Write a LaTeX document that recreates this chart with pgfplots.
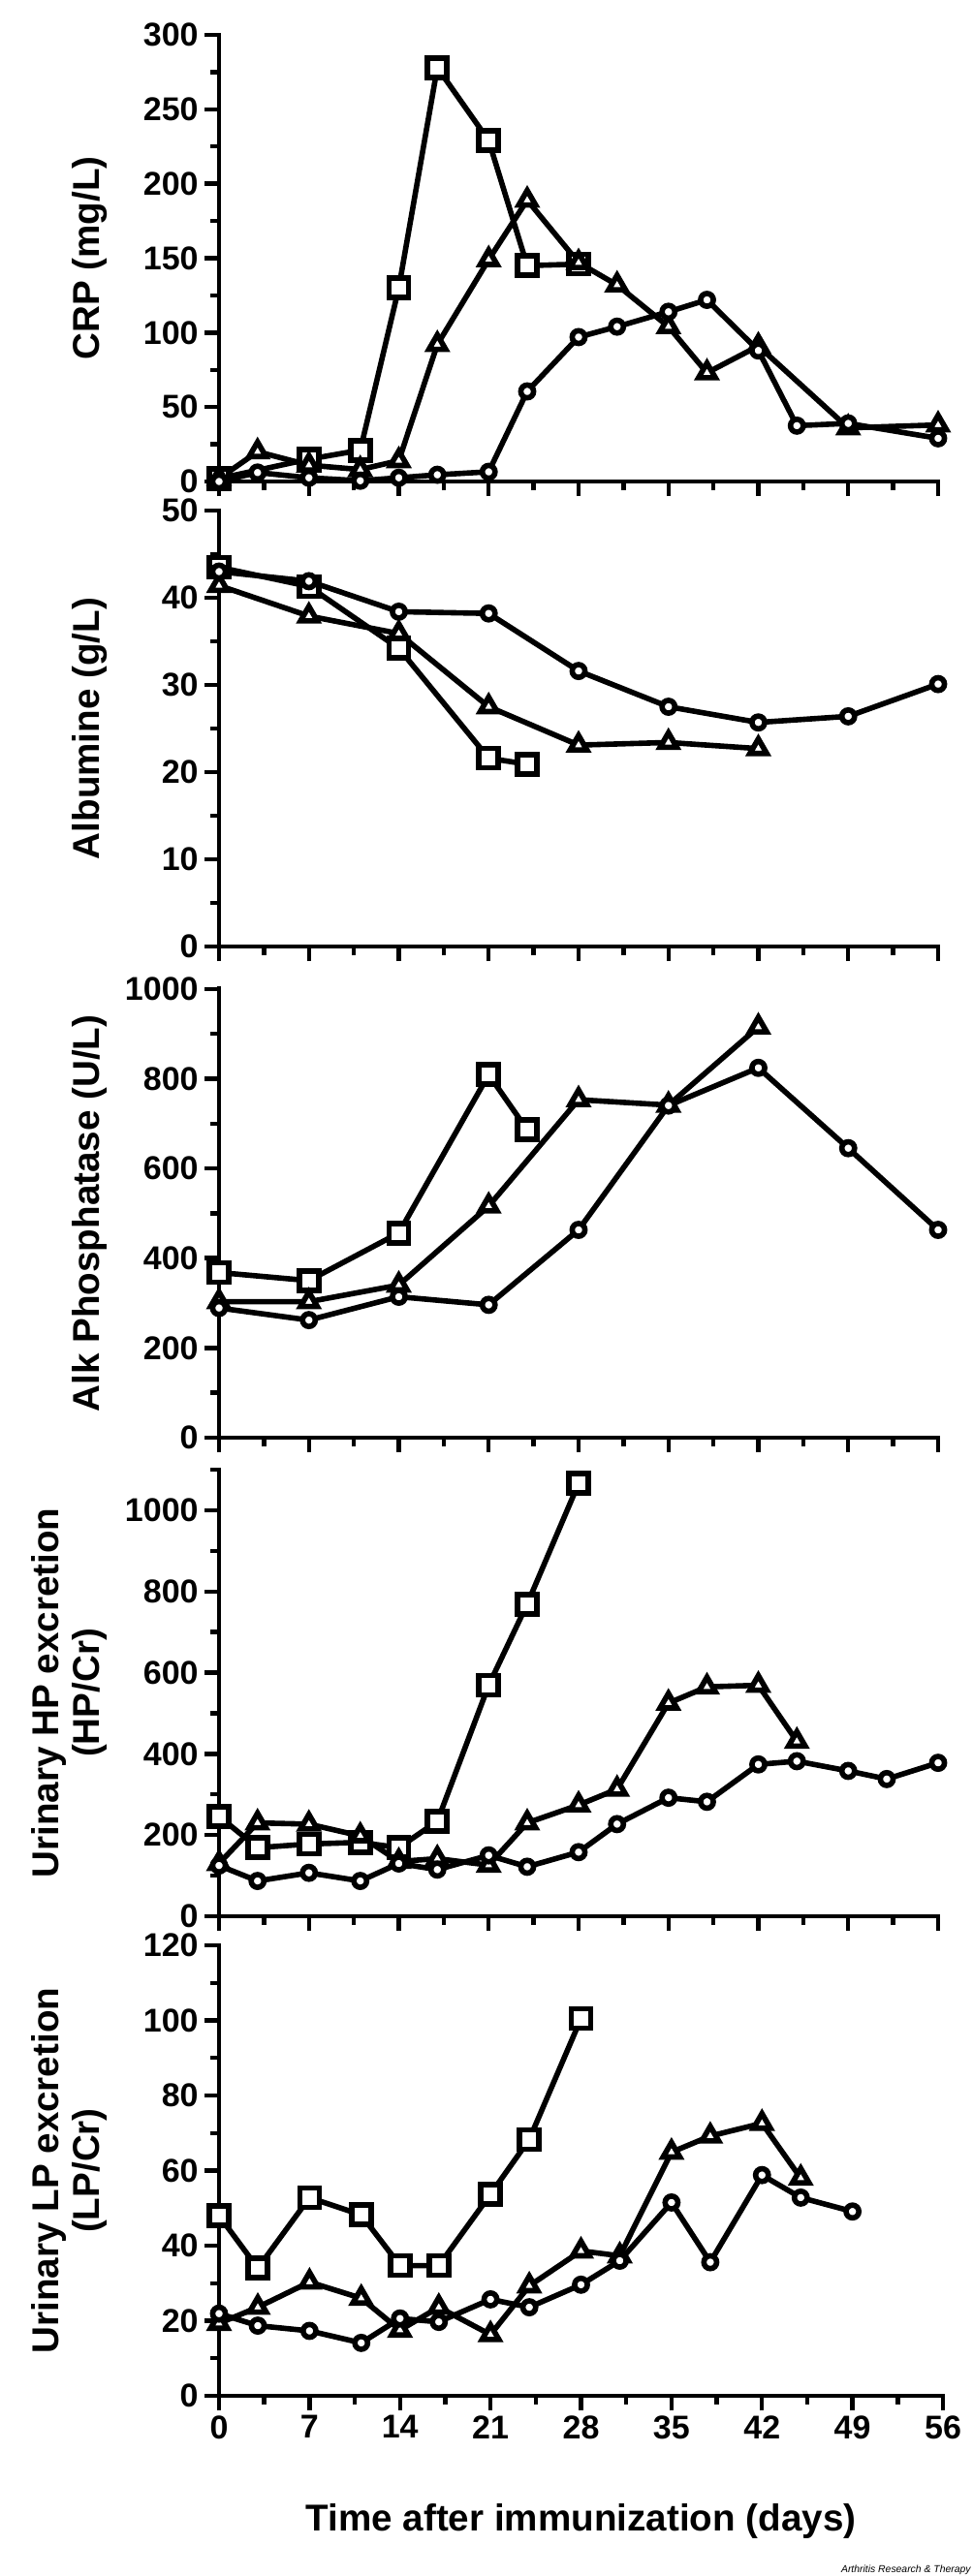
\documentclass[border=0pt]{standalone}
\usepackage{fontspec}
\setmainfont{Liberation Sans}
\usepackage{pgfplots}
\pgfplotsset{compat=1.18}

\pgfplotsset{
  panel/.style={
    scale only axis, width=371pt,
    xmin=0, xmax=56, xtick={0,7,...,56}, minor x tick num=1,
    axis lines*=left, tick align=outside,
    axis line style={line width=2.3pt, line cap=rect, black},
    major tick length=7.5pt, minor tick length=4.5pt,
    tick style={line width=2.2pt, black},
    /pgf/number format/assume math mode=true,
    /pgf/number format/1000 sep={},
    ticklabel style={font=\bfseries\fontsize{17}{19}\selectfont},
    yticklabel style={inner sep=3pt},
    xticklabel style={inner sep=2.5pt},
    ylabel style={font=\bfseries\fontsize{19.3}{21}\selectfont, at={(axis description cs:-0.155,0.5)}, anchor=south, inner sep=0pt, align=center},
    clip=false,
    anchor=south west,
  },
  ser/.style={black, line width=2.8pt, solid},
  sq/.style={ser, mark=square*, mark size=5pt, mark options={fill=white, line join=miter}},
  tri/.style={ser, mark=triangle*, mark size=5pt, mark options={fill=white, line join=miter}},
  circ/.style={ser, mark=*, mark size=3.3pt, mark options={fill=white}},
}

\begin{document}
\begin{tikzpicture}
\useasboundingbox (0,0) rectangle (502pt,-1329.5pt);

% ---------------- CRP
\begin{axis}[panel, at={(113pt,-248.5pt)}, height=230.5pt,
  ymin=0, ymax=300, ytick={0,50,...,300}, minor y tick num=1,
  xticklabels={}, ylabel={CRP (mg/L)}]
\addplot[sq] coordinates {(0,2) (7,15) (11,21) (14,130) (17,278) (21,229) (24,145) (28,146)};
\addplot[tri] coordinates {(0,2) (3,20) (7,11) (11,8) (14,14) (17,92) (21,149) (24,189) (28,147) (31,132) (35,104) (38,73) (42,91) (49,36) (56,38)};
\addplot[circ] coordinates {(0,0) (3,6) (7,2.5) (11,0.5) (14,2.5) (17,4.5) (21,6.5) (24,60.5) (28,97) (31,104) (35,114) (38,122) (42,88) (45,37.5) (49,39) (56,29)};
\end{axis}

% ---------------- Albumine
\begin{axis}[panel, at={(113pt,-488.5pt)}, height=225pt,
  ymin=0, ymax=50, ytick={0,10,...,50}, minor y tick num=1,
  xticklabels={}, ylabel={Albumine (g/L)}]
\addplot[sq] coordinates {(0,43.5) (7,41.3) (14,34.2) (21,21.6) (24,20.9)};
\addplot[tri] coordinates {(0,41.4) (7,37.9) (14,35.9) (21,27.5) (28,23.1) (35,23.4) (42,22.7)};
\addplot[circ] coordinates {(0,43) (7,41.9) (14,38.4) (21,38.2) (28,31.6) (35,27.5) (42,25.7) (49,26.4) (56,30.1)};
\end{axis}

% ---------------- Alk Phosphatase
\begin{axis}[panel, at={(113pt,-742pt)}, height=231.65pt,
  ymin=0, ymax=1000, ytick={0,200,...,1000}, minor y tick num=1,
  xticklabels={}, ylabel={Alk Phosphatase (U/L)}]
\addplot[sq] coordinates {(0,368) (7,350) (14,456) (21,809) (24,686)};
\addplot[tri] coordinates {(0,303) (7,303) (14,340) (21,516) (28,753) (35,741) (42,915)};
\addplot[circ] coordinates {(0,289) (7,262) (14,314) (21,296) (28,463) (35,740) (42,824) (49,645) (56,463)};
\end{axis}

% ---------------- Urinary HP
\begin{axis}[panel, at={(113pt,-989pt)}, height=230.5pt,
  ymin=0, ymax=1100, ytick={0,200,...,1000}, minor ytick={100,300,...,1100},
  xticklabels={}, ylabel={Urinary HP excretion\\(HP/Cr)}]
\addplot[sq] coordinates {(0,246) (3,169) (7,178) (11,182) (14,169) (17,234) (21,569) (24,769) (28,1066)};
\addplot[tri] coordinates {(0,130) (3,230) (7,227) (11,198) (14,135) (17,142) (21,126) (24,230) (28,274) (31,313) (35,525) (38,565) (42,569) (45,431)};
\addplot[circ] coordinates {(0,125) (3,87) (7,107) (11,87) (14,130) (17,115) (21,150) (24,122) (28,158) (31,227) (35,292) (38,282) (42,374) (45,382) (49,358) (52,338) (56,378)};
\end{axis}

% ---------------- Urinary LP
\begin{axis}[panel, at={(113pt,-1236.5pt)}, height=232.5pt, width=373.5pt,
  ymin=0, ymax=120, ytick={0,20,...,120}, minor y tick num=1,
  ylabel={Urinary LP excretion\\(LP/Cr)},
  ylabel style={at={(axis description cs:-0.154,0.5)}},
  xlabel={Time after immunization (days)},
  xlabel style={font=\bfseries\fontsize{19.3}{21}\selectfont, at={(axis description cs:0.5,0)}, anchor=base, yshift=-69.5pt}]
\addplot[sq] coordinates {(0,48) (3,34) (7,52.8) (11,48.2) (14,34.7) (17,34.7) (21,53.7) (24,68.3) (28,100.5)};
\addplot[tri] coordinates {(0,19.3) (3,23.6) (7,30.3) (11,26) (14,17.5) (17,23.6) (21,16.3) (24,29.3) (28,38.6) (31,37.3) (35,64.9) (38,69.2) (42,72.6) (45,58)};
\addplot[circ] coordinates {(0,21.9) (3,18.7) (7,17.3) (11,14.1) (14,20.6) (17,19.7) (21,25.7) (24,23.6) (28,29.6) (31,36) (35,51.5) (38,35.6) (42,58.8) (45,52.8) (49,49.1)};
\end{axis}

\node[anchor=base east, inner sep=0pt, font=\itshape\fontsize{5.2}{6}\selectfont] at (501pt,-1327.5pt) {Arthritis Research \& Therapy};
\end{tikzpicture}
\end{document}
